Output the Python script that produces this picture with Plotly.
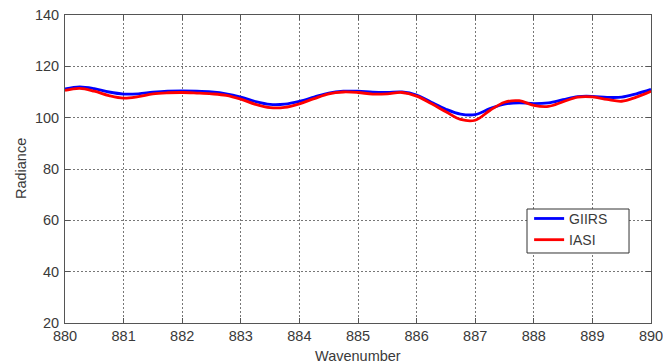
import plotly.graph_objects as go

# Spectral samples (wavenumber, cm^-1)
wavenumber = [880 + 0.25 * i for i in range(41)]

giirs = [111.2, 112.0, 111.3, 110.0, 109.2, 109.3, 109.9, 110.3, 110.4, 110.3,
         110.0, 109.3, 108.0, 106.3, 105.2, 105.3, 106.4, 108.0, 109.6, 110.3,
         110.3, 109.9, 109.8, 110.0, 108.8, 106.0, 103.3, 101.4, 101.2, 103.5,
         105.3, 105.8, 105.5, 105.8, 107.0, 108.2, 108.3, 107.9, 108.0, 109.3,
         111.0]

iasi = [110.6, 111.4, 110.3, 108.6, 107.6, 108.2, 109.3, 109.7, 109.8, 109.6,
        109.3, 108.7, 107.2, 105.2, 103.9, 104.0, 105.4, 107.4, 109.3, 110.0,
        109.8, 109.2, 109.3, 109.8, 108.4, 105.5, 102.3, 99.3, 99.0, 102.8,
        106.0, 106.6, 104.8, 104.4, 106.2, 108.0, 108.1, 107.1, 106.4, 108.0,
        110.3]

x_ticks = list(range(880, 891))
y_ticks = list(range(20, 141, 20))

FONT = "Liberation Sans, Arial"
TEXT = "#3a3a3a"

fig = go.Figure()
fig.add_trace(go.Scatter(x=wavenumber, y=giirs, name="GIIRS", mode="lines",
                         line=dict(color="#0000ff", width=2.8, shape="spline")))
fig.add_trace(go.Scatter(x=wavenumber, y=iasi, name="IASI", mode="lines",
                         line=dict(color="#ff0000", width=2.8, shape="spline")))

axis_common = dict(
    showline=True, linecolor="#555", linewidth=1, mirror="ticks",
    ticks="inside", ticklen=5, tickcolor="#555",
    showgrid=True, gridcolor="#777", griddash="2px,2px", gridwidth=1,
    zeroline=False, automargin=False, ticklabeloverflow="allow",
    tickfont=dict(family=FONT, size=14.5, color=TEXT),
)

fig.update_layout(
    width=663, height=363,
    margin=dict(l=65, r=12, t=15, b=40),
    paper_bgcolor="white", plot_bgcolor="white",
    font=dict(family=FONT, size=14, color=TEXT),
    xaxis=dict(range=[880, 890], tickvals=x_ticks, ticklabelstandoff=0,
               **axis_common),
    yaxis=dict(range=[20, 140], tickvals=y_ticks, ticklabelstandoff=2,
               **axis_common),
    legend=dict(x=0.792, y=0.39, xanchor="left", yanchor="top",
                bgcolor="rgba(0,0,0,0)", borderwidth=0,
                font=dict(size=14, color=TEXT), tracegroupgap=0,
                itemwidth=30),
    showlegend=True,
    shapes=[
        # legend frame
        dict(type="rect", xref="paper", yref="paper",
             x0=0.7884, x1=0.9625, y0=0.2273, y1=0.3701,
             line=dict(color="#333", width=1), fillcolor="white",
             layer="above"),
    ],
    annotations=[
        dict(text="Wavenumber", xref="paper", yref="paper", x=0.5, y=-0.074,
             xanchor="center", yanchor="top", showarrow=False,
             font=dict(size=14.5, color=TEXT)),
        dict(text="Radiance", xref="paper", yref="paper", x=-0.075, y=0.5,
             xanchor="center", yanchor="middle", textangle=-90, showarrow=False,
             font=dict(size=14.5, color=TEXT)),
    ],
)

fig.write_html("out.html")
